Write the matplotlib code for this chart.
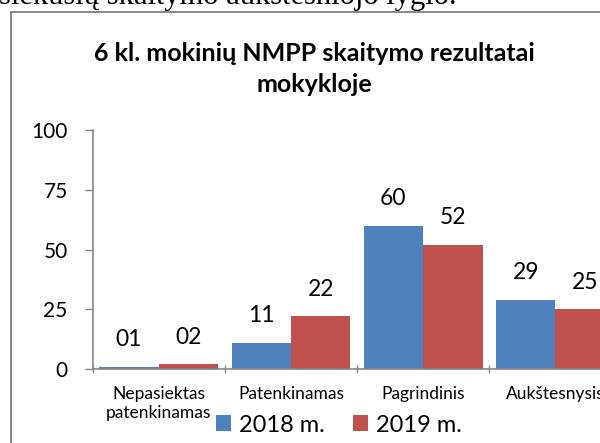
import matplotlib
matplotlib.use("Agg")
import matplotlib.pyplot as plt
from matplotlib.lines import Line2D

# duomenys
categories = ["Nepasiektas\npatenkinamas", "Patenkinamas", "Pagrindinis", "Aukštesnysis"]
years = ["2018 m.", "2019 m."]
vals_2018 = [1, 11, 60, 29]
vals_2019 = [2, 22, 52, 25]
labels_2018 = ["01", "11", "60", "29"]
labels_2019 = ["02", "22", "52", "25"]
yticks = [0, 25, 50, 75, 100]

title = "6 kl. mokinių NMPP skaitymo rezultatai\nmokykloje"
top_text = "siekusių skaitymo aukštesniojo lygio."

blue = "#4F81BD"
red = "#C0504D"
grey = "#868686"

W, H = 600, 443
fig = plt.figure(figsize=(W / 100, H / 100), dpi=100)
plt.rcParams["font.family"] = ["Lato", "DejaVu Sans"]

def px(x, y):
    # pikseliai (nuo viršaus) -> figūros koordinatės
    return x / W, 1 - y / H

# teksto eilutė virš diagramos (nukirsta)
fig.text(*px(-1, 4), top_text, family="Liberation Serif", fontsize=22,
         ha="left", va="baseline")

# diagramos rėmelis
bx, by = 10.5, 11.5
fig.add_artist(Line2D([bx / W, bx / W], [-0.1, 1 - by / H], color=grey, lw=1.4))
fig.add_artist(Line2D([bx / W, 1.1], [1 - by / H, 1 - by / H], color=grey, lw=1.4))

# pavadinimas
fig.text(*px(314.5, 69), title, fontsize=18, fontweight="bold", ha="center",
         va="center", linespacing=1.38)

x0, x1 = 92.7, 621.5
y0, y1 = 369, 130
ax = fig.add_axes([x0 / W, 1 - y0 / H, (x1 - x0) / W, (y0 - y1) / H])

x = list(range(len(categories)))
bw = 0.45
b1 = ax.bar([i - bw / 2 for i in x], vals_2018, bw, color=blue, label=years[0])
b2 = ax.bar([i + bw / 2 for i in x], vals_2019, bw, color=red, label=years[1])

for bars, labs in ((b1, labels_2018), (b2, labels_2019)):
    for r, t in zip(bars, labs):
        ax.annotate(t, (r.get_x() + r.get_width() / 2, r.get_height()),
                    xytext=(0, 19.5), textcoords="offset points",
                    ha="center", va="center", fontsize=16.5)

ax.set_xlim(-0.5, len(categories) - 0.5)
ax.set_ylim(0, 100)
ax.set_yticks(yticks)
ax.tick_params(axis="y", direction="out", length=6, width=1, color=grey,
               labelsize=15, pad=12)
ax.set_xticks([i - 0.5 for i in range(len(categories) + 1)])
ax.set_xticklabels([])
ax.set_xticks(x, minor=True)
ax.set_xticklabels(categories, minor=True, fontsize=12.5, linespacing=1.25)
ax.tick_params(axis="x", which="major", direction="inout", length=6, width=1, color=grey)
ax.tick_params(axis="x", which="minor", length=0, pad=12)

for s in ("top", "right"):
    ax.spines[s].set_visible(False)
for s in ("left", "bottom"):
    ax.spines[s].set_color(grey)
    ax.spines[s].set_linewidth(1.2)

fig.legend(handles=[b1, b2], labels=years, loc="center", ncol=2,
           bbox_to_anchor=px(339, 425), frameon=False, fontsize=17,
           handlelength=0.64, handleheight=0.64, handletextpad=0.34,
           columnspacing=1.2, borderpad=0, borderaxespad=0)

fig.savefig("out.png", dpi=100)
